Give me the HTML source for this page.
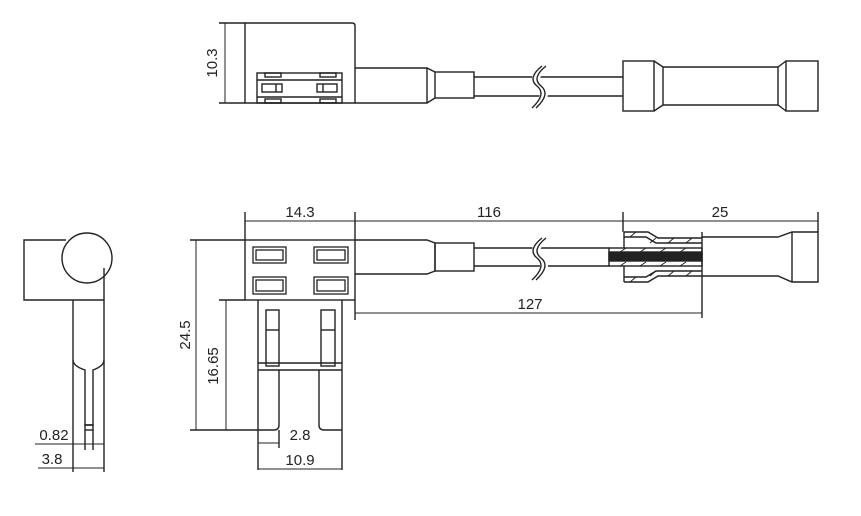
<!DOCTYPE html>
<html><head><meta charset="utf-8"><style>
html,body{margin:0;padding:0;background:#fff;}
svg{display:block;}
text{font-family:"Liberation Sans",sans-serif;font-size:15px;fill:#222;}
</style></head><body>
<svg width="861" height="516" viewBox="0 0 861 516" xmlns="http://www.w3.org/2000/svg">
<g fill="none" stroke="#222" stroke-width="1.4">
<!-- TOP VIEW -->
<path d="M245,103 V23 H352 Q355,23 355,26 V103 Z"/>
<line x1="219" y1="23" x2="245" y2="23"/>
<line x1="219" y1="103" x2="245" y2="103"/>
<line x1="225" y1="23" x2="225" y2="103" stroke-width="1"/>
<rect x="257" y="73" width="85" height="30"/>
<line x1="257" y1="80" x2="342" y2="80"/>
<line x1="257" y1="97" x2="342" y2="97"/>
<rect x="265" y="73" width="16" height="4"/>
<rect x="320" y="73" width="16" height="4"/>
<rect x="262" y="84" width="20" height="8"/>
<rect x="317" y="84" width="20" height="8"/>
<line x1="276" y1="84" x2="276" y2="92"/><line x1="323" y1="84" x2="323" y2="92"/>
<rect x="265" y="99" width="16" height="4"/>
<rect x="320" y="99" width="16" height="4"/>
<path d="M355,68 H427 L435,72 M355,103 H427 L435,98"/>
<line x1="427" y1="68" x2="427" y2="103"/>
<rect x="435" y="72" width="39" height="26"/>
<line x1="474" y1="77" x2="623" y2="77"/>
<line x1="474" y1="96" x2="623" y2="96"/>
<path d="M545,66 Q530,78 540,86 Q550,94 535,108" stroke="#fff" stroke-width="8"/>
<path d="M542,66 Q527,78 537,86 Q547,94 532,108"/>
<path d="M546,66 Q531,78 541,86 Q551,94 536,108"/>
<rect x="623" y="61" width="31" height="50"/>
<path d="M654,61 L663,67 H778 L786,61 M654,111 L663,105 H778 L786,111"/>
<line x1="663" y1="67" x2="663" y2="105"/><line x1="778" y1="67" x2="778" y2="105"/>
<rect x="786" y="61" width="32" height="50"/>

<!-- FRONT VIEW -->
<rect x="245" y="240" width="110" height="60"/>
<line x1="245" y1="212" x2="245" y2="240"/>
<line x1="355" y1="212" x2="355" y2="240"/>
<line x1="818" y1="212" x2="818" y2="232"/>
<line x1="623" y1="212" x2="623" y2="232"/>
<line x1="245" y1="221" x2="818" y2="221" stroke-width="1"/>
<g stroke-width="1.3">
<rect x="253" y="247" width="33" height="16"/><rect x="256" y="250" width="27" height="10"/>
<rect x="314" y="247" width="34" height="16"/><rect x="317" y="250" width="28" height="10"/>
<rect x="253" y="277" width="33" height="17"/><rect x="256" y="280" width="27" height="11"/>
<rect x="314" y="277" width="34" height="17"/><rect x="317" y="280" width="28" height="11"/>
</g>
<path d="M355,240 H427 L435,243 V271 L427,274 H355"/>
<rect x="435" y="243" width="39" height="28"/>
<line x1="474" y1="248" x2="609" y2="248"/>
<line x1="474" y1="266" x2="609" y2="266"/>
<path d="M545,238 Q530,250 540,258 Q550,266 535,280" stroke="#fff" stroke-width="8"/>
<path d="M542,238 Q527,250 537,258 Q547,266 532,280"/>
<path d="M546,238 Q531,250 541,258 Q551,266 536,280"/>
<rect x="609" y="248" width="93" height="18"/>
<rect x="609" y="252" width="93" height="9" fill="#222"/>
<path d="M624,232 H648 L658,238 H702 M624,282 H648 L658,276 H702"/>
<path d="M624,237 H646 L656,243 H702 M624,277 H646 L656,271 H702"/>
<line x1="624" y1="232" x2="624" y2="248"/><line x1="624" y1="266" x2="624" y2="282"/>
<g stroke-width="1">
<path d="M630,237 l6,-5 M650,243 l6,-5 M668,243 l6,-5 M686,243 l6,-5 M630,282 l6,-5 M650,276 l6,-5 M668,276 l6,-5 M686,276 l6,-5 M620,252 l6,-4 M640,252 l6,-4 M660,252 l6,-4 M680,252 l6,-4 M620,266 l6,-4 M640,266 l6,-4 M660,266 l6,-4 M680,266 l6,-4"/>
</g>
<line x1="702" y1="232" x2="702" y2="318"/>
<path d="M702,237 H778 L792,232 H818 V282 H792 L778,276 H702"/>
<line x1="792" y1="232" x2="792" y2="282"/>
<line x1="355" y1="300" x2="355" y2="320"/>
<line x1="355" y1="313" x2="702" y2="313" stroke-width="1"/>
<!-- blades -->
<line x1="258" y1="300" x2="258" y2="470"/>
<line x1="342" y1="300" x2="342" y2="470"/>
<line x1="258" y1="363" x2="342" y2="363"/>
<line x1="258" y1="370" x2="342" y2="370"/>
<rect x="266" y="310" width="13" height="56"/><line x1="266" y1="330" x2="279" y2="330"/>
<rect x="321" y="310" width="14" height="56"/><line x1="321" y1="330" x2="335" y2="330"/>
<path d="M279,370 V425 Q279,430 274,430 H258"/>
<path d="M319,370 V425 Q319,430 324,430 H342"/>
<line x1="279" y1="430" x2="279" y2="448"/>
<line x1="190" y1="240" x2="245" y2="240"/>
<line x1="190" y1="430" x2="258" y2="430"/>
<line x1="219" y1="300" x2="245" y2="300"/>
<line x1="196" y1="240" x2="196" y2="430" stroke-width="1"/>
<line x1="226" y1="300" x2="226" y2="430" stroke-width="1"/>
<line x1="258" y1="443" x2="279" y2="443" stroke-width="1"/>
<line x1="258" y1="469" x2="342" y2="469" stroke-width="1"/>

<!-- SIDE VIEW -->
<path d="M66,240 H24 V300 H104 V268"/>
<circle cx="87" cy="258" r="25"/>
<path d="M73,300 V360 Q73,366 85,370 V425 H93 V370 Q104,366 104,360"/>
<rect x="85" y="425" width="8" height="5"/>
<line x1="73" y1="360" x2="73" y2="472"/>
<line x1="104" y1="300" x2="104" y2="472"/>
<line x1="85" y1="430" x2="85" y2="450"/><line x1="93" y1="430" x2="93" y2="450"/>
<line x1="35" y1="444" x2="104" y2="444" stroke-width="1"/>
<line x1="38" y1="468" x2="104" y2="468" stroke-width="1"/>
</g>
<text x="213" y="63" text-anchor="middle" transform="rotate(-90 213 63)" dominant-baseline="middle">10.3</text>
<text x="300" y="217" text-anchor="middle">14.3</text>
<text x="489" y="217" text-anchor="middle">116</text>
<text x="720" y="217" text-anchor="middle">25</text>
<text x="530" y="309" text-anchor="middle">127</text>
<text x="186" y="335" text-anchor="middle" transform="rotate(-90 186 335)" dominant-baseline="middle">24.5</text>
<text x="214" y="366" text-anchor="middle" transform="rotate(-90 214 366)" dominant-baseline="middle">16.65</text>
<text x="300" y="440" text-anchor="middle">2.8</text>
<text x="300" y="465" text-anchor="middle">10.9</text>
<text x="54" y="440" text-anchor="middle">0.82</text>
<text x="52" y="464" text-anchor="middle">3.8</text>
</svg>
</body></html>
